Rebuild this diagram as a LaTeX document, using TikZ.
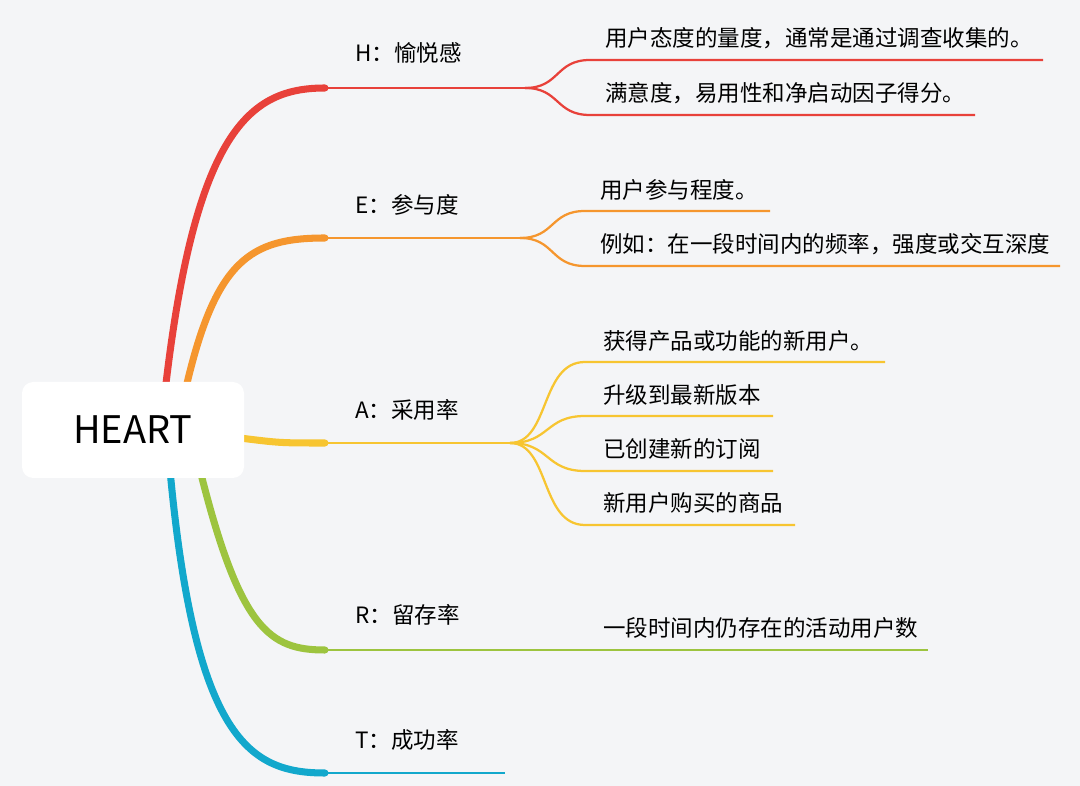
\documentclass[tikz,border=0pt]{standalone}
\usepackage{fontspec}
\setmainfont{Noto Sans CJK SC}
\usetikzlibrary{positioning}
\definecolor{bgc}{HTML}{F4F5F7}
\definecolor{cH}{HTML}{E8413A}
\definecolor{cE}{HTML}{F5962E}
\definecolor{cA}{HTML}{F7C531}
\definecolor{cR}{HTML}{9DC43F}
\definecolor{cT}{HTML}{12A8CC}
\tikzset{
    lbl/.style={anchor=west, inner sep=0pt, font=\fontsize{16}{19}\selectfont},
    trunk/.style={line width=5pt, line cap=round},
    twig/.style={line width=1.6pt}
}
\begin{document}
\begin{tikzpicture}[x=0.025cm, y=-0.025cm]
    \fill[bgc] (0,0) rectangle (1080,786);
    \useasboundingbox (0,0) rectangle (1080,786);

    % Main branches
    \draw[trunk, cH] (165,392) .. controls (195,130) and (250,88) .. (325,88);
    \draw[trunk, cE] (185,392) .. controls (215,260) and (250,238) .. (325,238);
    \draw[trunk, cA] (240,438) .. controls (280,443) .. (325,443);
    \draw[trunk, cR] (200,470) .. controls (240,630) and (270,650) .. (325,650);
    \draw[trunk, cT] (170,470) .. controls (195,740) and (250,773) .. (325,773);

    % Root
    \node[fill=white, rounded corners=8pt, minimum width=222*0.025cm, minimum height=96*0.025cm,
          font=\fontsize{27}{31}\selectfont] (root) at (133,430) {HEART};

    % H
    \coordinate (h0) at (325,88); \coordinate (h1) at (525,88);
    \draw[twig, cH] (h0) -- (h1);
    \draw[twig, cH] (h1) .. controls (560,88) and (555,60) .. (590,60) -- (1043,60);
    \draw[twig, cH] (h1) .. controls (560,88) and (555,115) .. (590,115) -- (975,115);
    \node[lbl] (H) at (355,53) {H：愉悦感};
    \node[lbl] (h-a) at (605,38) {用户态度的量度，通常是通过调查收集的。};
    \node[lbl] (h-b) at (605,93) {满意度，易用性和净启动因子得分。};

    % E
    \coordinate (e0) at (325,238); \coordinate (e1) at (520,238);
    \draw[twig, cE] (e0) -- (e1);
    \draw[twig, cE] (e1) .. controls (555,238) and (550,211) .. (585,211) -- (770,211);
    \draw[twig, cE] (e1) .. controls (555,238) and (550,266) .. (585,266) -- (1060,266);
    \node[lbl] (E) at (355,205) {E：参与度};
    \node[lbl] (e-a) at (600,190) {用户参与程度。};
    \node[lbl] (e-b) at (600,244) {例如：在一段时间内的频率，强度或交互深度};

    % A
    \coordinate (a0) at (325,443); \coordinate (a1) at (510,443);
    \draw[twig, cA] (a0) -- (a1);
    \draw[twig, cA] (a1) .. controls (550,443) and (540,362) .. (585,362) -- (885,362);
    \draw[twig, cA] (a1) .. controls (550,443) and (545,416) .. (585,416) -- (773,416);
    \draw[twig, cA] (a1) .. controls (550,443) and (545,471) .. (585,471) -- (773,471);
    \draw[twig, cA] (a1) .. controls (550,443) and (540,525) .. (585,525) -- (795,525);
    \node[lbl] (A) at (355,410) {A：采用率};
    \node[lbl] (a-a) at (603,341) {获得产品或功能的新用户。};
    \node[lbl] (a-b) at (603,395) {升级到最新版本};
    \node[lbl] (a-c) at (603,449) {已创建新的订阅};
    \node[lbl] (a-d) at (603,503) {新用户购买的商品};

    % R
    \coordinate (r0) at (325,650); \coordinate (r1) at (928,650);
    \draw[twig, cR] (r0) -- (r1);
    \node[lbl] (R) at (355,615) {R：留存率};
    \node[lbl] (r-a) at (603,628) {一段时间内仍存在的活动用户数};

    % T
    \coordinate (t0) at (325,773); \coordinate (t1) at (505,773);
    \draw[twig, cT] (t0) -- (t1);
    \node[lbl] (T) at (355,740) {T：成功率};
\end{tikzpicture}
\end{document}
